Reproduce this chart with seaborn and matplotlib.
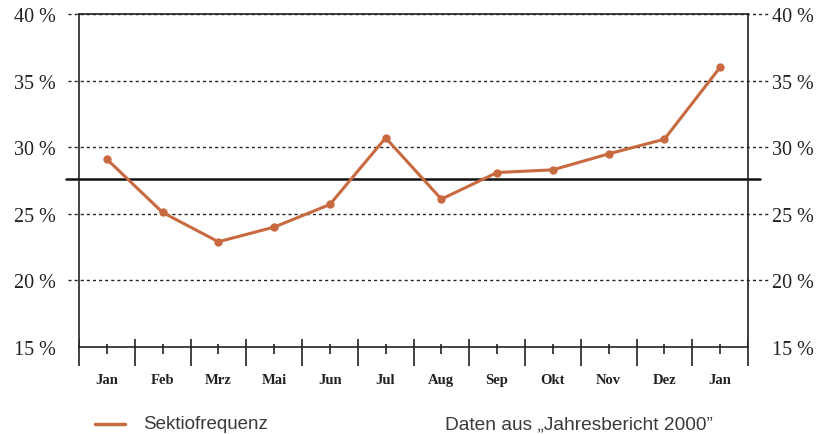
import matplotlib
matplotlib.use("Agg")
import matplotlib.pyplot as plt
from matplotlib.ticker import FixedLocator
from matplotlib.lines import Line2D
import numpy as np
import pandas as pd
import seaborn as sns

# Daten
monate = ["Jan", "Feb", "Mrz", "Mai", "Jun", "Jul", "Aug", "Sep", "Okt", "Nov", "Dez", "Jan"]
sektiofrequenz = [29.1, 25.1, 22.9, 24.0, 25.7, 30.7, 26.1, 28.1, 28.3, 29.5, 30.6, 36.0]
mittelwert = 27.6
y_ticks = [15, 20, 25, 30, 35, 40]

farbe = "#c8693f"

sns.set_style("white")
plt.rcParams["font.family"] = ["Liberation Serif", "DejaVu Serif"]

df = pd.DataFrame({"pos": np.arange(len(monate)), "wert": sektiofrequenz})

fig = plt.figure(figsize=(8.18, 4.35), dpi=100)
ax = fig.add_axes([79 / 818, 1 - 348 / 435, (748 - 79) / 818, (348 - 15) / 435])

# gestrichelte Hilfslinien, ragen über den Rahmen hinaus
for y in y_ticks[1:]:
    ax.plot([-0.70, 11.89], [y, y], ls=(0, (2.2, 2.2)), color="#222222", lw=1.0,
            clip_on=False, zorder=1)

# Mittelwertlinie
ax.plot([-0.73, 11.72], [mittelwert, mittelwert], color="#111111", lw=1.8,
        clip_on=False, zorder=2)

sns.lineplot(data=df, x="pos", y="wert", ax=ax, color=farbe, lw=2.2,
             marker="o", markersize=6, markeredgewidth=0, zorder=3)

ax.set_xlim(-0.5, len(monate) - 0.5)
ax.set_ylim(15, 40)
ax.set_xlabel("")
ax.set_ylabel("")

for s in ax.spines.values():
    s.set_visible(True)
    s.set_color("#222222")
    s.set_linewidth(1.2)

# x-Achse: lange Striche an den Grenzen, kurze in der Mitte mit Beschriftung
grenzen = np.arange(-0.5, len(monate), 1.0)
mitten = np.arange(len(monate))
ax.xaxis.set_major_locator(FixedLocator(grenzen))
ax.xaxis.set_minor_locator(FixedLocator(mitten))
ax.set_xticklabels([], minor=False)
ax.set_xticklabels(monate, minor=True, fontsize=10.5, fontweight="bold", color="#222222")
ax.tick_params(axis="x", which="major", direction="out", length=13.5, width=1.2,
               color="#222222", bottom=True)
ax.tick_params(axis="x", which="minor", direction="out", length=5, width=1.2,
               color="#222222", bottom=True, pad=13.5)
# kurze Stücke nach innen
ax.vlines(grenzen, 15, 15 + 7.5 / 13.32, color="#222222", lw=1.2, zorder=4)
ax.vlines(mitten, 15, 15 + 3 / 13.32, color="#222222", lw=1.2, zorder=4)

# y-Achse beidseitig
ax.set_yticks(y_ticks)
ax.set_yticklabels([f"{v} %" for v in y_ticks], fontsize=14.5, color="#222222")
ax.tick_params(axis="y", which="both", length=0, pad=17, labelright=True,
               labelleft=True, right=False, left=False)

# Legende und Quellenangabe
fig.add_artist(Line2D([95 / 818, 125 / 818], [1 - 425 / 435, 1 - 425 / 435],
                      color=farbe, lw=2.5))
fig.text(143 / 818, 1 - 425 / 435, "Sektiofrequenz", fontsize=13.5,
         family=["Liberation Sans", "DejaVu Sans"], va="center", color="#3a3a3a")
fig.text(445 / 818, 1 - 425 / 435, "Daten aus \u201eJahresbericht 2000\u201d", fontsize=13.8,
         family=["Liberation Sans", "DejaVu Sans"], va="center", color="#3a3a3a")

fig.savefig("out.png", dpi=100)
